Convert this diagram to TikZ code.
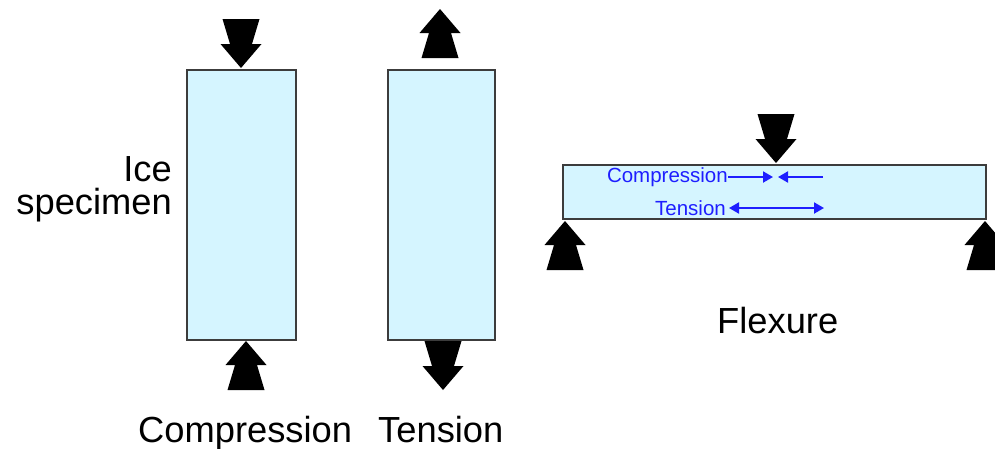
\documentclass[tikz,border=0pt]{standalone}
\usepackage{fontspec}
\setmainfont{Liberation Sans}
\usetikzlibrary{arrows.meta}
\definecolor{icefill}{RGB}{213,245,255}
\definecolor{iceedge}{RGB}{60,60,60}
\definecolor{lblblue}{RGB}{30,30,255}
\tikzset{
  specimen/.style={fill=icefill,draw=iceedge,line width=2pt},
  biglabel/.style={inner sep=0pt,font=\fontsize{36.3}{36}\selectfont},
  bluelabel/.style={inner sep=0pt,text=lblblue,font=\fontsize{20.5}{20.5}\selectfont},
  bluearrow/.style={draw=lblblue,line width=2pt,-{Triangle[length=10pt,width=11pt]}},
  bluedarrow/.style={draw=lblblue,line width=2pt,{Triangle[length=10pt,width=11pt]}-{Triangle[length=10pt,width=11pt]}},
  blkarrow/.pic={\fill[black] (-18.5,-49) -- (18.5,-49) -- (11,-24) -- (20.5,-24) -- (0,0) -- (-20.5,-24) -- (-11,-24) -- cycle;}
}
\begin{document}
\begin{tikzpicture}[x=1pt,y=-1pt]
\useasboundingbox (0,0) rectangle (995,448);
% specimens
\node[specimen,draw,inner sep=0pt,minimum width=109pt,minimum height=270pt] (comp) at (241.5,205) {};
\node[specimen,draw,inner sep=0pt,minimum width=107pt,minimum height=270pt] (tens) at (441.5,205) {};
\node[specimen,draw,inner sep=0pt,minimum width=423pt,minimum height=54pt] (beam) at (774.5,192) {};
% load arrows
\pic at (241,68) {blkarrow};
\pic[yscale=-1] at (246,341) {blkarrow};
\pic[yscale=-1] at (440,9) {blkarrow};
\pic at (443,390) {blkarrow};
\pic at (776,163) {blkarrow};
\pic[yscale=-1] at (565,221) {blkarrow};
\pic[yscale=-1] at (985,221) {blkarrow};
% labels
\node[biglabel,anchor=base west] (lcomp) at (138,442) {Compression};
\node[biglabel,anchor=base west] (ltens) at (378,442) {Tension};
\node[biglabel,anchor=base east] (lice) at (172,181) {Ice};
\node[biglabel,anchor=base east] (lspec) at (172,214) {specimen};
\node[biglabel,anchor=base west] (lflex) at (717,333) {Flexure};
% flexure stress labels
\node[bluelabel,anchor=east] (bcomp) at (728,177) {Compression};
\node[bluelabel,anchor=east] (btens) at (726,208) {Tension};
\coordinate (c1) at (773,177);
\coordinate (c2) at (778,177);
\coordinate (c3) at (823,177);
\coordinate (t2) at (824,208);
\draw[bluearrow] (bcomp.east) -- (c1);
\draw[bluearrow] (c3) -- (c2);
\draw[bluedarrow] ([xshift=3pt]btens.east) -- (t2);
\end{tikzpicture}
\end{document}
